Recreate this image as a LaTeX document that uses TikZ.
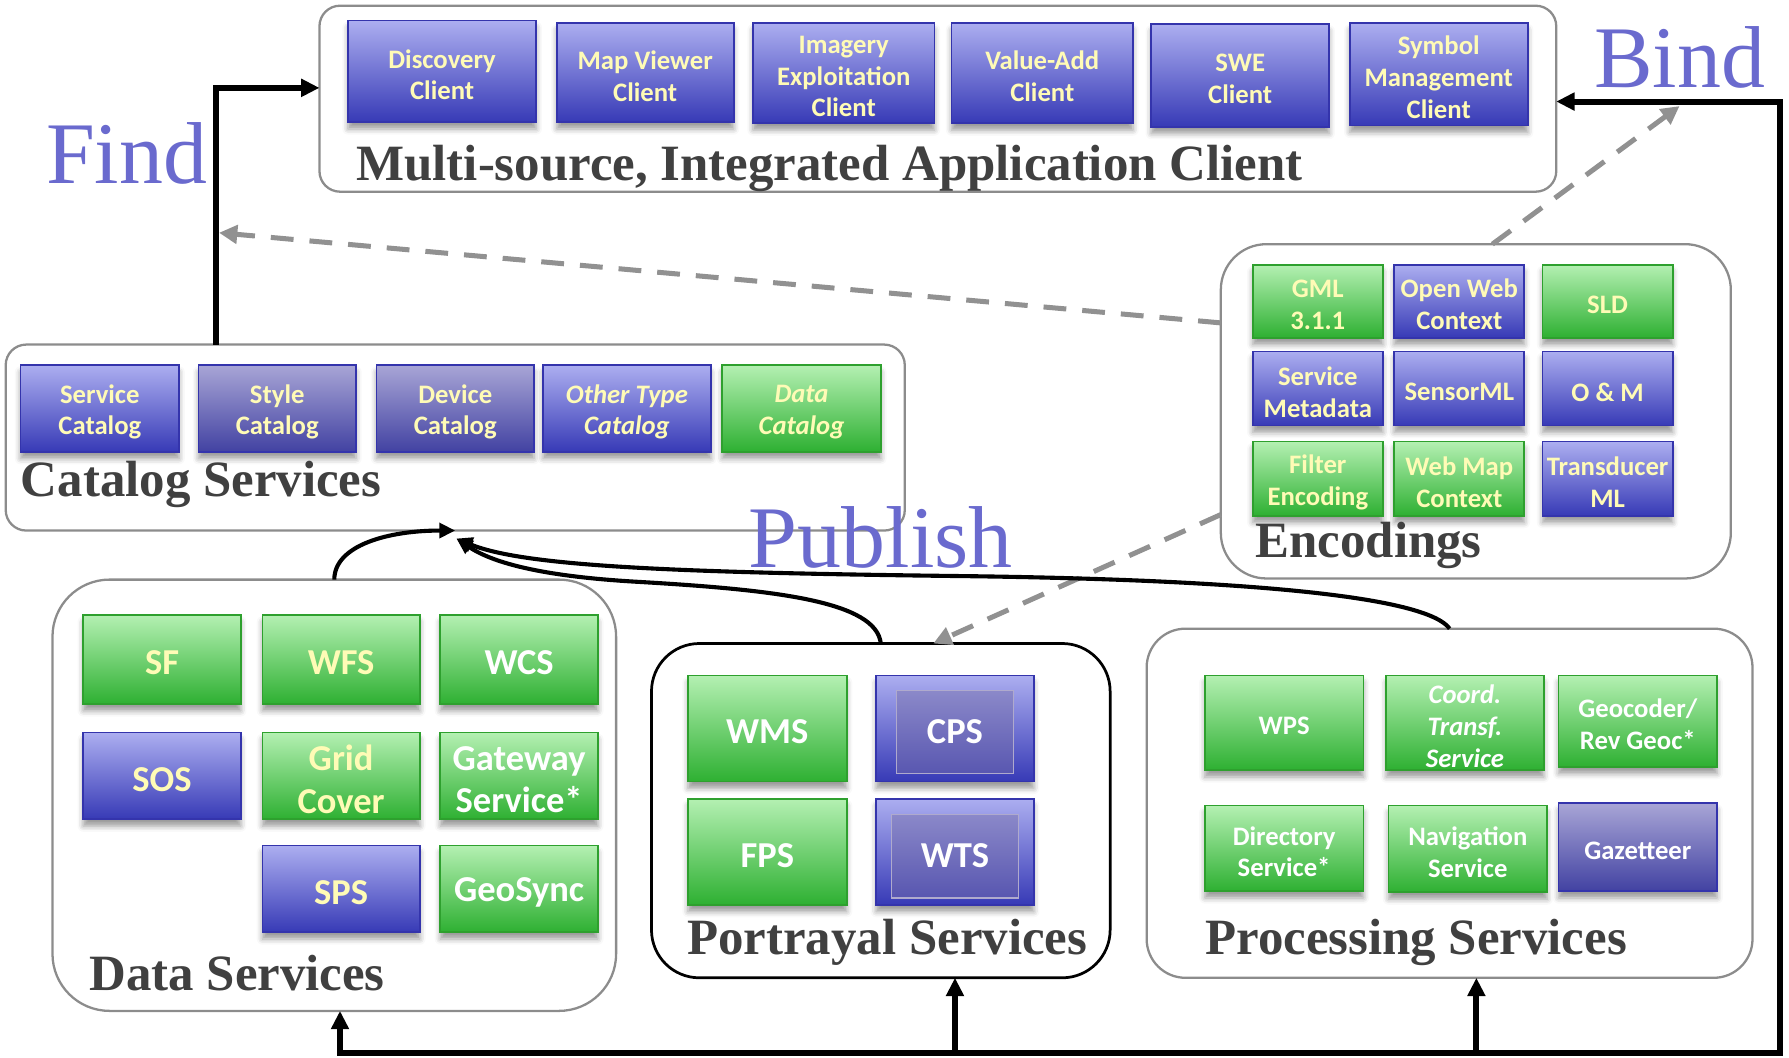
\documentclass[tikz,border=0pt]{standalone}
\usepackage{fontspec}
\setmainfont{Liberation Serif}
\newfontfamily\boxfont{Carlito}
\usetikzlibrary{arrows.meta,fit,shadows.blur}
\definecolor{bluetop}{RGB}{172,174,240}
\definecolor{bluebot}{RGB}{55,58,182}
\definecolor{blueedge}{RGB}{52,52,172}
\definecolor{graytop}{RGB}{168,165,214}
\definecolor{graybot}{RGB}{66,66,162}
\definecolor{greentop}{RGB}{180,240,178}
\definecolor{greenbot}{RGB}{46,176,50}
\definecolor{greenedge}{RGB}{46,160,46}
\definecolor{cream}{RGB}{255,251,182}
\definecolor{lbl}{RGB}{64,64,64}
\definecolor{pub}{RGB}{106,106,206}
\definecolor{contedge}{RGB}{140,140,140}
\definecolor{dashc}{RGB}{145,145,145}
\begin{document}
\begin{tikzpicture}[x=0.5pt,y=-0.5pt,
  >={Triangle[length=8pt,width=7.5pt]},
  txt/.style={inner sep=0pt, outer sep=0pt, align=center, text=cream,
    font=\boxfont\bfseries\fontsize{11.7}{14}\selectfont},
  box/.style={inner sep=0pt, outer sep=0pt, line width=0.8pt,
    blur shadow={shadow xshift=0pt, shadow yshift=-3pt, shadow blur radius=2.5pt, shadow opacity=40}},
  big/.style={font=\boxfont\bfseries\fontsize{16}{18.5}\selectfont},
  wt/.style={text=white},
  itl/.style={execute at begin node=\itshape},
  bluebox/.style={box, draw=blueedge, top color=bluetop, bottom color=bluebot},
  graybox/.style={box, draw=blueedge, top color=graytop, bottom color=graybot},
  greenbox/.style={box, draw=greenedge, top color=greentop, bottom color=greenbot},
  cont/.style={draw=contedge, line width=1pt, inner sep=0pt, outer sep=0pt},
  lab/.style={anchor=base west, inner sep=0pt, text=lbl, font=\bfseries\fontsize{22.3}{26}\selectfont},
  word/.style={anchor=base west, inner sep=0pt, text=pub, font=\fontsize{38.5}{44}\selectfont},
  conn/.style={line width=2.6pt, black},
  pubc/.style={line width=1.8pt, black, ->, >={Triangle[length=7pt,width=6.5pt]}},
  dsh/.style={line width=2.2pt, dashc, dash pattern=on 10pt off 7pt, -{Triangle[length=8pt,width=8pt]}},
  inner/.style={fill={rgb,255:red,120;green,112;blue,165}, fill opacity=0.45, draw={rgb,255:red,175;green,170;blue,205}, line width=0.5pt}
]
\useasboundingbox (0,0) rectangle (1568,927);
% name, box style, text style, x1, y1, x2, y2, text
\newcommand\bx[8]{%
  \pgfmathsetmacro\bxw{(#6-#4)/2}%
  \pgfmathsetmacro\bxh{(#7-#5)/2}%
  \node[#2, minimum width=\bxw pt, minimum height=\bxh pt] (#1) at ({(#4+#6)/2},{(#5+#7)/2}) {};
  \node[txt, #3] (#1t) at ({(#4+#6)/2},{(#5+#7)/2+3}) {#8};}

% containers
\node[cont, rounded corners=9pt, fit={(280,5) (1364,168)}] (client) {};
\node[cont, rounded corners=9pt, fit={(5,302) (793,465)}] (cat) {};
\node[cont, rounded corners=20pt, fit={(1070,214) (1517,507)}] (enc) {};
\node[cont, rounded corners=25pt, fit={(46,508) (540,886)}] (data) {};
\node[cont, draw=black, line width=1.2pt, rounded corners=21pt, fit={(571,564) (973,857)}] (port) {};
\node[cont, rounded corners=17pt, fit={(1005,551) (1536,857)}] (proc) {};

% client boxes
\bx{disc}{bluebox}{}{305}{18}{470}{107}{Discovery\\Client}
\bx{mapv}{bluebox}{}{488}{20}{643}{107}{Map Viewer\\Client}
\bx{imag}{bluebox}{}{660}{20}{819}{108}{Imagery\\Exploitation\\Client}
\bx{vadd}{bluebox}{}{834}{20}{993}{108}{Value-Add\\Client}
\bx{swe}{bluebox}{}{1009}{21}{1165}{111}{SWE\\Client}
\bx{sym}{bluebox}{}{1183}{20}{1339}{110}{Symbol\\Management\\Client}

% catalog boxes
\bx{scat}{bluebox}{}{18}{320}{157}{396}{Service\\Catalog}
\bx{stcat}{graybox}{}{174}{320}{312}{396}{Style\\Catalog}
\bx{dvcat}{graybox}{}{330}{320}{468}{396}{Device\\Catalog}
\bx{otcat}{bluebox}{itl}{476}{320}{623}{396}{Other Type\\Catalog}
\bx{dacat}{greenbox}{itl}{633}{320}{772}{396}{Data\\Catalog}

% encodings
\bx{gml}{greenbox}{}{1098}{232}{1212}{296}{GML\\3.1.1}
\bx{owc}{bluebox}{}{1222}{232}{1336}{296}{Open Web\\Context}
\bx{sld}{greenbox}{}{1352}{232}{1466}{296}{SLD}
\bx{smeta}{bluebox}{}{1098}{308}{1212}{373}{Service\\Metadata}
\bx{sml}{bluebox}{}{1222}{308}{1336}{373}{SensorML}
\bx{om}{bluebox}{}{1352}{308}{1466}{373}{O \& M}
\bx{fe}{greenbox}{}{1098}{387}{1212}{452}{Filter\\Encoding}
\bx{wmc}{greenbox}{}{1222}{387}{1336}{452}{Web Map\\Context}
\bx{tml}{bluebox}{}{1352}{387}{1466}{452}{Transducer\\ML}

% data services
\bx{sf}{greenbox}{big}{73}{539}{211}{617}{SF}
\bx{wfs}{greenbox}{big}{230}{539}{368}{617}{WFS}
\bx{wcs}{greenbox}{big,wt}{386}{539}{524}{617}{WCS}
\bx{sos}{bluebox}{big}{73}{642}{211}{718}{SOS}
\bx{grid}{greenbox}{big}{230}{642}{368}{718}{Grid\\Cover}
\bx{gw}{greenbox}{big,wt}{386}{642}{524}{718}{Gateway\\Service*}
\bx{sps}{bluebox}{big}{230}{741}{368}{817}{SPS}
\bx{geos}{greenbox}{big,wt}{386}{741}{524}{817}{GeoSync}

% portrayal services
\bx{wms}{greenbox}{big,wt}{603}{592}{742}{685}{WMS}
\bx{fps}{greenbox}{big,wt}{603}{700}{742}{793}{FPS}
\node[bluebox, minimum width=69pt, minimum height=46.5pt] (cps) at (837,638.5) {};
\node[bluebox, minimum width=69pt, minimum height=46.5pt] (wts) at (837,746.5) {};
\path[inner] (786,605) rectangle (888,678);
\path[inner] (781,714) rectangle (893,787);
\node[txt, big, wt] (cpst) at (837,641.5) {CPS};
\node[txt, big, wt] (wtst) at (837,749.5) {WTS};

% processing services
\bx{wps}{greenbox}{wt}{1056}{592}{1195}{675}{WPS}
\bx{ctr}{greenbox}{wt,itl}{1215}{592}{1353}{675}{Coord.\\Transf.\\Service}
\bx{geoc}{greenbox}{wt}{1366}{592}{1505}{672}{Geocoder/\\Rev Geoc*}
\bx{dirs}{greenbox}{wt}{1056}{706}{1195}{781}{Directory\\Service*}
\bx{nav}{greenbox}{wt}{1217}{706}{1356}{782}{Navigation\\Service}
\bx{gaz}{graybox}{wt}{1366}{704}{1505}{781}{Gazetteer}

% container labels
\node[lab] (lclient) at (312,158) {Multi-source, Integrated Application Client};
\node[lab] (lcat) at (18,435) {Catalog Services};
\node[lab] (lenc) at (1100,489) {Encodings};
\node[lab] (ldata) at (78,868) {Data Services};
\node[lab] (lport) at (602,837) {Portrayal Services};
\node[lab] (lproc) at (1056,837) {Processing Services};

% words
\node[word] (find) at (40,161) {Find};
\node[word] (bind) at (1397,77) {Bind};
\node[word] (publish) at (656,497) {Publish};

% connector points
\coordinate (findA) at (189,302);
\coordinate (findB) at (280,77);
\coordinate (bindB) at (1364,89);
\coordinate (bL) at (298,923);
\coordinate (bR) at (1560,923);
\coordinate (bM1) at (837,923);
\coordinate (bM2) at (1294,923);
\coordinate (pt2) at (400,472);
\coordinate (e1) at (1070,283);
\coordinate (fT) at (192,204);
\coordinate (e2) at (1070,451);
\coordinate (pT) at (818,564);
\coordinate (e3) at (1308,214);
\coordinate (bT) at (1472,93);

% dashed arrows
\draw[dsh] (e1) -- (fT);
\draw[dsh] (e2) -- (pT);
\draw[dsh] (e3) -- (bT);

% find / bind / bottom bus
\draw[conn,->] (findA) |- (findB);
\draw[conn,<->] (bL |- data.south) -- (bL) -- (bR) |- (bindB);
\draw[conn,->] (bM1) -- (bM1 |- port.south);
\draw[conn,->] (bM2) -- (bM2 |- proc.south);

% publish curves
\draw[pubc] (data.north) .. controls (293,478) and (340,465) .. (cat.south);
\draw[pubc] (port.north) .. controls (768,527) and (680,517) .. (560,510) .. controls (470,505) and (430,492) .. (pt2);
\draw[pubc] (proc.north) .. controls (1245,515) and (1000,507) .. (850,505) .. controls (600,502) and (460,497) .. (pt2);
\end{tikzpicture}
\end{document}
